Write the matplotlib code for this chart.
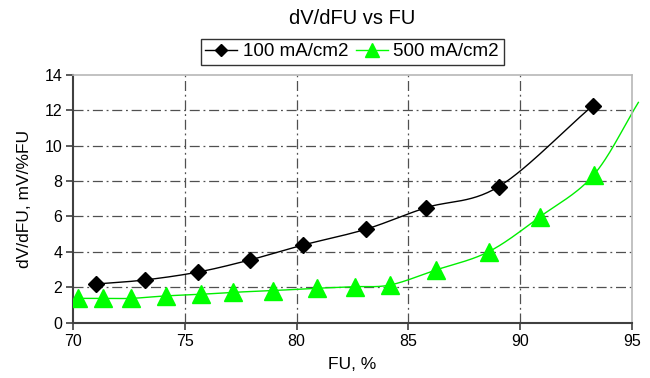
import numpy as np
import matplotlib.pyplot as plt

plt.rcParams['font.family'] = ['Liberation Sans', 'DejaVu Sans']

# data
fu_100 = [71.0, 73.2, 75.6, 77.9, 80.3, 83.1, 85.8, 89.05, 93.25]
dv_100 = [2.18, 2.41, 2.86, 3.54, 4.39, 5.28, 6.50, 7.69, 12.26]

fu_500 = [70.2, 71.35, 72.6, 74.15, 75.7, 77.15, 78.95, 80.9, 82.6, 84.2, 86.25,
          88.6, 90.9, 93.3, 95.3]
dv_500 = [1.37, 1.37, 1.37, 1.51, 1.60, 1.71, 1.81, 1.94, 2.03, 2.13, 2.98,
          4.01, 5.99, 8.35, 12.45]

x_ticks = [70, 75, 80, 85, 90, 95]
y_ticks = [0, 2, 4, 6, 8, 10, 12, 14]


def smooth(x, y, n=30):
    # catmull-rom, roughly what Excel's smoothed line does
    x = np.asarray(x, float)
    y = np.asarray(y, float)
    px = np.concatenate([[2 * x[0] - x[1]], x, [2 * x[-1] - x[-2]]])
    py = np.concatenate([[2 * y[0] - y[1]], y, [2 * y[-1] - y[-2]]])
    t = np.linspace(0, 1, n)[:, None]
    xs, ys = [], []
    for i in range(1, len(px) - 2):
        for p, out in ((px, xs), (py, ys)):
            p0, p1, p2, p3 = p[i - 1], p[i], p[i + 1], p[i + 2]
            seg = 0.5 * ((2 * p1) + (-p0 + p2) * t + (2 * p0 - 5 * p1 + 4 * p2 - p3) * t ** 2
                         + (-p0 + 3 * p1 - 3 * p2 + p3) * t ** 3)
            out.append(seg.ravel())
    return np.concatenate(xs), np.concatenate(ys)


fig = plt.figure(figsize=(6.5, 3.78), dpi=100)
ax = fig.add_axes([0.1128, 0.1466, 0.8590, 0.6550])

grid_style = dict(color='#505050', linewidth=0.9, dashes=(8, 3, 1.5, 3))
for v in x_ticks[1:-1]:
    ax.axvline(v, zorder=0, **grid_style)
for v in y_ticks[1:-1]:
    ax.axhline(v, zorder=0, **grid_style)

sx, sy = smooth(fu_100, dv_100)
ax.plot(sx, sy, color='black', linewidth=1.0, zorder=2)
ax.plot(fu_100, dv_100, linestyle='none', marker='D', markersize=8,
        color='black', zorder=3)

sx, sy = smooth(fu_500, dv_500)
ax.plot(sx, sy, color='#00ee00', linewidth=1.0, zorder=2, clip_on=False)
ax.plot(fu_500[:-1], dv_500[:-1], linestyle='none', marker='^', markersize=13,
        color='#00ff00', zorder=3)

# legend proxies
ax.plot([], [], color='black', marker='D', markersize=6, linewidth=1.0, label='100 mA/cm2')
ax.plot([], [], color='#00ff00', marker='^', markersize=10, linewidth=1.0, label='500 mA/cm2')
handles, labels = ax.get_legend_handles_labels()
leg = fig.legend(handles[-2:], labels[-2:], loc='center', bbox_to_anchor=(0.542, 0.863),
                 ncol=2, frameon=True, fancybox=False, edgecolor='black', fontsize=13.5,
                 handlelength=1.7, handletextpad=0.3, columnspacing=0.4,
                 borderpad=0.25, borderaxespad=0)
leg.get_frame().set_linewidth(1.0)

ax.set_xlim(70, 95)
ax.set_ylim(0, 14)
ax.set_xticks(x_ticks)
ax.set_yticks(y_ticks)
ax.tick_params(axis='both', direction='out', length=5, width=1.2, color='#404040',
               labelsize=11.5, pad=3)

for side in ['left', 'bottom']:
    ax.spines[side].set_color('#404040')
    ax.spines[side].set_linewidth(1.5)
for side in ['top', 'right']:
    ax.spines[side].set_color('#b8b8b8')
    ax.spines[side].set_linewidth(1.2)

ax.set_xlabel('FU, %', fontsize=12.5, labelpad=6)
ax.set_ylabel('dV/dFU, mV/%FU', fontsize=12.5, labelpad=9)
fig.text(0.542, 0.951, 'dV/dFU vs FU', ha='center', va='center', fontsize=14.5)

fig.savefig('out.png', dpi=100)
